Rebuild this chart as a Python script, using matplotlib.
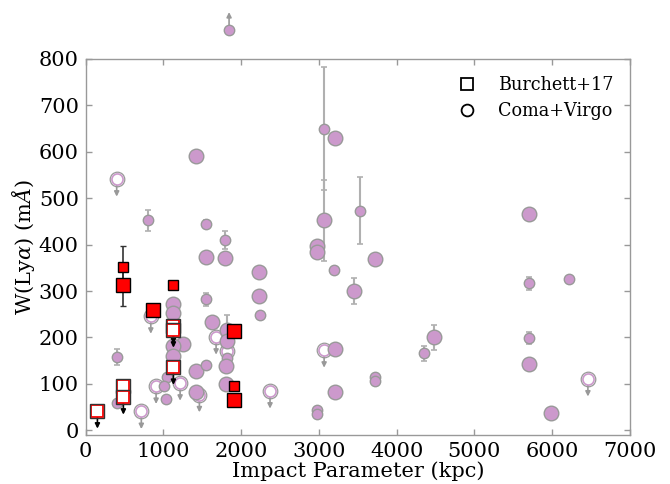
import matplotlib
matplotlib.use("Agg")
import matplotlib.pyplot as plt
from matplotlib.lines import Line2D

plt.rcParams['font.family'] = ['DejaVu Serif']
plt.rcParams['mathtext.fontset'] = 'dejavuserif'

# ---------------- Coma+Virgo detections ----------------
cv_x = [1420, 798, 1548, 1797, 1548, 1797, 2234, 2234, 1548, 2240, 1625,
        1119, 1119, 1256, 1119, 1119, 1042, 1012, 1035, 399, 399, 1414,
        1548, 1420, 1815, 1820, 1822, 1805, 1801, 3063, 3209, 3067, 3530,
        2973, 2973, 3723, 3200, 3457, 4478, 4358, 3204, 3723, 3723, 3204,
        2981, 2981, 5697, 5697, 6216, 5697, 5697, 5989]
cv_w = [591, 452, 445, 410, 374, 371, 340, 290, 282, 249, 234,
        271, 253, 187, 182, 160, 116, 95, 68, 158, 60, 128,
        141, 83, 216, 192, 156, 138, 100, 649, 629, 452, 473,
        396, 383, 369, 346, 300, 200, 166, 175, 115, 107, 83,
        45, 35, 465, 317, 325, 199, 143, 37]
cv_err = [6, 22, 8, 20, 0, 0, 0, 0, 14, 5, 0,
          0, 0, 0, 0, 0, 0, 0, 0, 17, 0, 0,
          0, 0, 32, 0, 0, 0, 0, 132, 0, 87, 72,
          0, 0, 0, 0, 28, 26, 16, 0, 0, 0, 0,
          0, 0, 0, 14, 6, 13, 0, 0]
cv_big = [1, 0, 0, 0, 1, 1, 1, 1, 0, 0, 1,
          1, 1, 1, 1, 1, 0, 0, 0, 0, 0, 1,
          0, 1, 1, 1, 0, 1, 1, 0, 1, 1, 0,
          1, 1, 1, 0, 1, 1, 0, 1, 0, 0, 1,
          0, 0, 1, 0, 0, 0, 1, 1]

# Coma+Virgo lower limit
cv_lo_x = [1844]
cv_lo_w = [862]

# Coma+Virgo upper limits
cv_up_x = [398, 837, 1677, 1822, 3067, 6461, 2371, 1214, 905, 1462, 715]
cv_up_w = [541, 246, 201, 172, 173, 111, 85, 102, 95, 77, 41]

# ---------------- Burchett+17 ----------------
b_x = [484, 484, 1128, 862, 1913, 1913, 1913]
b_w = [351, 313, 312, 260, 213, 95, 66]
b_err = [46, 46, 0, 0, 0, 0, 0]
b_big = [0, 1, 0, 1, 1, 0, 1]

b_up_x = [1128, 1128, 1128, 484, 484, 150]
b_up_w = [224, 216, 136, 95, 72, 42]

x_ticks = [0, 1000, 2000, 3000, 4000, 5000, 6000, 7000]
y_ticks = [0, 100, 200, 300, 400, 500, 600, 700, 800]

PURPLE = '#cc99cc'
GREY = '#999999'
ERRGREY = '#b0b0b0'
RED = '#ff0000'
ARROW_LEN = 38

fig = plt.figure(figsize=(6.7, 4.84), dpi=100)
ax = fig.add_axes([0.128, 0.101, 0.812, 0.778])


def down_arrow(x, y, color, z):
    ax.annotate('', xy=(x, y - ARROW_LEN), xytext=(x, y),
                arrowprops=dict(arrowstyle='-|>', color=color, lw=1.2,
                                mutation_scale=7, shrinkA=0, shrinkB=0),
                zorder=z)


# Coma+Virgo upper limits: arrows, then open circles
for x, w in zip(cv_up_x, cv_up_w):
    down_arrow(x, w, GREY, 1)
    ax.plot(x, w, 'o', ms=8.0, mfc='white', mec=PURPLE, mew=1.2, zorder=2)
    ax.plot(x, w, 'o', ms=10.5, mfc='none', mec=GREY, mew=0.9, zorder=2)

# Coma+Virgo detections
for x, w, e, big in zip(cv_x, cv_w, cv_err, cv_big):
    if e > 0:
        ax.errorbar(x, w, yerr=e, fmt='none', ecolor=ERRGREY, elinewidth=1.5,
                    capsize=2.5, capthick=1.2, zorder=2)
    ax.plot(x, w, 'o', ms=10.5 if big else 7.5, mfc=PURPLE, mec=GREY,
            mew=1.0, zorder=3)

# Coma+Virgo lower limit (above the frame)
for x, w in zip(cv_lo_x, cv_lo_w):
    ax.annotate('', xy=(x, w + ARROW_LEN), xytext=(x, w),
                arrowprops=dict(arrowstyle='-|>', color=GREY, lw=1.2,
                                mutation_scale=7, shrinkA=0, shrinkB=0),
                annotation_clip=False, zorder=1)
    ax.plot(x, w, 'o', ms=7.5, mfc=PURPLE, mec=GREY, mew=1.0, zorder=3,
            clip_on=False)

# Burchett+17 upper limits
for x, w in zip(b_up_x, b_up_w):
    down_arrow(x, w, 'black', 4)
    ax.plot(x, w, 's', ms=8.0, mfc='white', mec=RED, mew=1.3, zorder=5)
    ax.plot(x, w, 's', ms=10.0, mfc='none', mec='#333333', mew=1.0, zorder=5)

# Burchett+17 detections
for x, w, e, big in zip(b_x, b_w, b_err, b_big):
    if e > 0:
        ax.errorbar(x, w, yerr=e, fmt='none', ecolor='#333333', elinewidth=1.2,
                    capsize=2.5, capthick=1.0, zorder=4)
    ax.plot(x, w, 's', ms=10.5 if big else 7.0, mfc=RED, mec='black',
            mew=1.0, zorder=6)

ax.set_xlim(0, 7000)
ax.set_ylim(-10, 800)
ax.set_xticks(x_ticks)
ax.set_yticks(y_ticks)
ax.tick_params(direction='in', top=True, right=True, length=4, width=1,
               color=GREY, labelsize=15, pad=5)
for sp in ax.spines.values():
    sp.set_color(GREY)
    sp.set_linewidth(1.0)

ax.set_xlabel('Impact Parameter (kpc)', fontsize=15, labelpad=0)
ax.set_ylabel(r'W(Ly$\alpha$) (m$\AA$)', fontsize=15, labelpad=1)

handles = [
    Line2D([], [], ls='none', marker='s', ms=8.5, mfc='none', mec='black', mew=1.3),
    Line2D([], [], ls='none', marker='o', ms=8.5, mfc='none', mec='black', mew=1.3),
]
ax.legend(handles, ['Burchett+17', 'Coma+Virgo'], loc='upper right',
          frameon=False, fontsize=12.7, handletextpad=0.8,
          bbox_to_anchor=(1.0, 0.995), borderaxespad=0.5, labelspacing=0.45)

fig.savefig('out.png', dpi=100)
